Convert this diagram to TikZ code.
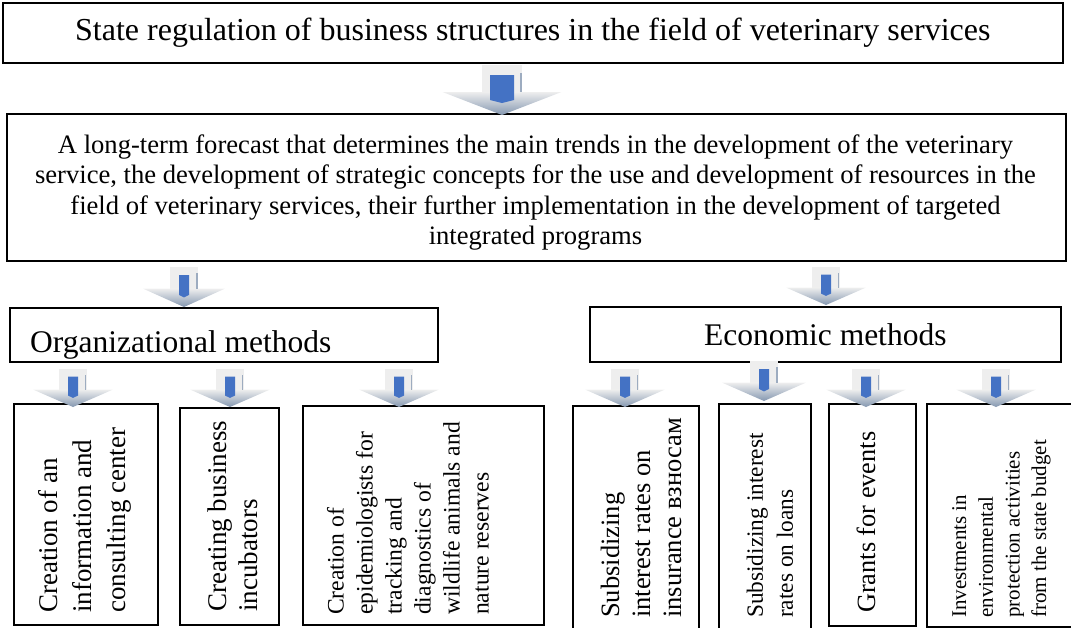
\documentclass[tikz,border=0pt]{standalone}
\usepackage{fontspec}
\setmainfont{Liberation Serif}
\usepackage{tikz}

\definecolor{iconblue}{HTML}{4472C4}
\definecolor{icongray}{HTML}{8497B0}
\definecolor{iconshaft}{HTML}{EEEEEE}

% down arrow icon: top centre, half width of head, height, half width of blue bar
\newcommand{\downicon}[4]{%
  \begin{scope}[shift={(#1)}]
    \fill[iconshaft] (-0.34*#2,0) rectangle (0.34*#2,0.56*#3);
    \shade[top color=iconshaft, bottom color=icongray]
      (-#2,0.54*#3) -- (#2,0.54*#3) -- (0,#3) -- cycle;
    \draw[icongray!80, line width=1.6pt] (0.34*#2-1,0.16*#3) -- (0.34*#2-1,0.54*#3);
    \fill[iconblue] (-#4,0.2*#3) -- (#4,0.2*#3) -- (#4,0.7*#3) -- (0,0.76*#3)
      -- (-#4,0.7*#3) -- cycle;
  \end{scope}}

\begin{document}
\begin{tikzpicture}[x=1pt, y=-1pt,
  box/.style = {draw, line width=1.6pt, inner sep=0pt, anchor=north west},
  vtext/.style = {rotate=90, anchor=west, align=left, inner sep=0pt}]
  \useasboundingbox (0,0) rectangle (1071,627);

  % level 1
  \node[box, minimum width=1060pt, minimum height=60pt,
    font=\fontsize{32}{36}\selectfont] (state) at (2,2)
    {State regulation of business structures in the field of veterinary services};

  % level 2
  \node[box, minimum width=1059pt, minimum height=147pt] (forecast) at (6,113) {};
  \node[align=center, inner sep=0pt, font=\fontsize{26.6}{30.5}\selectfont]
    (forecasttext) at (535.5,192.5)
    {A long-term forecast that determines the main trends in the development of the veterinary\\
     service, the development of strategic concepts for the use and development of resources in the\\
     field of veterinary services, their further implementation in the development of targeted\\
     integrated programs};

  % level 3
  \node[box, minimum width=428pt, minimum height=54pt] (org) at (9,307) {};
  \node[anchor=base west, inner sep=0pt, font=\fontsize{31.5}{36}\selectfont]
    (orgtitle) at (30,352) {Organizational methods};
  \node[box, minimum width=471pt, minimum height=55pt,
    font=\fontsize{31.5}{36}\selectfont] (eco) at (589,306) {Economic methods};

  % level 4, organizational
  \node[box, minimum width=144pt, minimum height=221pt] (infocenter) at (13,403) {};
  \node[box, minimum width=99pt, minimum height=217pt] (incubators) at (179,407) {};
  \node[box, minimum width=241pt, minimum height=219pt] (epidem) at (302,405) {};
  % level 4, economic
  \node[box, minimum width=126pt, minimum height=225pt] (insurance) at (572,405) {};
  \node[box, minimum width=92pt, minimum height=227pt] (loans) at (718,403) {};
  \node[box, minimum width=87pt, minimum height=222pt] (grants) at (828,403) {};
  \node[box, minimum width=148pt, minimum height=223pt] (invest) at (926,403) {};

  % texts of level 4
  \node[vtext, font=\fontsize{27}{34}\selectfont] (infocentertext) at (85,613)
    {Creation of an\\information and\\consulting center};
  \node[vtext, font=\fontsize{27}{31}\selectfont] (incubatorstext) at (233,612)
    {Creating business\\incubators};
  \node[vtext, font=\fontsize{23.6}{29}\selectfont] (epidemtext) at (408,615)
    {Creation of\\epidemiologists for\\tracking and\\diagnostics of\\wildlife animals and\\nature reserves};
  \node[vtext, font=\fontsize{26.5}{31}\selectfont] (insurancetext) at (641,618)
    {Subsidizing\\interest rates on\\insurance взносам};
  \node[vtext, font=\fontsize{23.3}{30}\selectfont] (loanstext) at (770,618)
    {Subsidizing interest\\rates on loans};
  \node[vtext, font=\fontsize{26.3}{31}\selectfont] (grantstext) at (866,613)
    {Grants for events};
  \node[vtext, font=\fontsize{21}{26.7}\selectfont] (investtext) at (1001.5,618)
    {Investments in\\environmental\\protection activities\\from the state budget};

  % arrows
  \coordinate (a0) at (502,65);
  \coordinate (a1) at (184,267);
  \coordinate (a2) at (826,267);
  \downicon{a0}{59.5}{50}{12}
  \downicon{a1}{41}{40}{5}
  \downicon{a2}{40}{38}{5}
  \foreach \cx in {73,230,399,625,866,996} {
    \downicon{\cx,369}{40}{38}{5}
  }
  \downicon{764,361}{42}{40}{5}
\end{tikzpicture}
\end{document}
